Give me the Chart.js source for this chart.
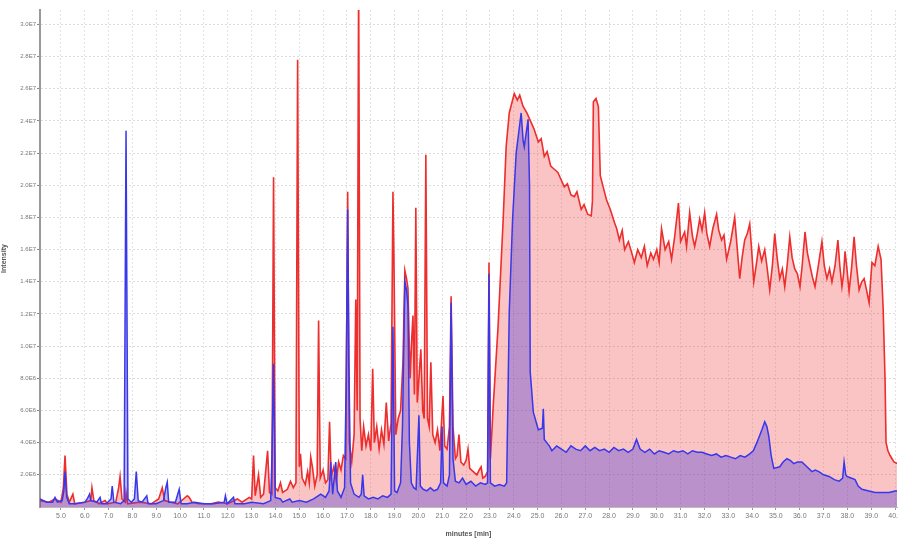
<!DOCTYPE html>
<html>
<head>
<meta charset="utf-8">
<script src="https://cdn.jsdelivr.net/npm/chart.js@4"></script>
<style>
  html, body { margin: 0; padding: 0; background: #fff; }
  #wrap { width: 898px; height: 538px; position: relative; }
</style>
</head>
<body>
<div id="wrap"><canvas id="tic"></canvas></div>
<script>
// retention time (min) / intensity (x1E6)
const redTrace = [
  [4.12,0.4],[4.5,0.3],[4.75,0.5],[5.0,0.3],[5.1,1.2],[5.17,3.2],[5.25,0.8],[5.35,0.3],[5.5,0.8],[5.58,0.2],
  [6.0,0.3],[6.25,0.4],[6.3,1.2],[6.38,0.4],[6.6,0.2],[6.85,0.4],[6.95,0.2],[7.3,0.3],[7.42,1.2],[7.48,1.9],
  [7.56,0.5],[7.7,0.3],[7.73,0.9],[7.8,0.2],[8.3,0.3],[8.8,0.2],[9.1,0.5],[9.25,1.2],[9.35,0.4],[9.6,0.3],
  [9.9,0.2],[10.3,0.7],[10.38,0.6],[10.5,0.3],[10.8,0.2],[11.3,0.2],[11.6,0.3],[12.0,0.2],[12.4,0.5],[12.6,0.3],
  [12.9,0.6],[13.0,0.5],[13.08,3.2],[13.15,0.7],[13.29,2.0],[13.38,0.6],[13.5,0.8],[13.67,3.5],[13.75,0.9],[13.85,0.8],
  [13.92,20.5],[13.99,1.2],[14.1,1.0],[14.21,1.5],[14.3,0.9],[14.5,1.1],[14.63,1.6],[14.75,1.2],[14.86,1.5],[14.93,27.8],
  [15.0,2.5],[15.05,3.3],[15.12,1.8],[15.25,1.4],[15.35,2.2],[15.42,1.5],[15.48,3.1],[15.55,2.5],[15.65,1.3],[15.75,2.0],
  [15.81,11.6],[15.88,1.8],[16.0,2.3],[16.1,1.5],[16.2,1.7],[16.27,5.3],[16.34,1.9],[16.45,2.5],[16.55,1.6],[16.65,2.8],
  [16.75,2.3],[16.85,3.2],[16.95,3.0],[17.03,19.6],[17.1,4.0],[17.2,2.8],[17.3,4.5],[17.37,12.9],[17.43,6.0],[17.49,33.0],
  [17.55,5.5],[17.62,3.5],[17.7,5.0],[17.8,3.8],[17.9,4.5],[18.0,3.5],[18.08,8.6],[18.15,4.0],[18.25,5.0],[18.35,3.6],
  [18.45,4.8],[18.55,3.9],[18.65,6.5],[18.75,4.1],[18.85,5.2],[18.93,19.6],[18.97,15.6],[19.05,4.5],[19.15,5.5],[19.25,6.0],
  [19.35,9.0],[19.43,14.7],[19.5,14.2],[19.56,13.6],[19.65,8.0],[19.72,10.5],[19.77,11.9],[19.83,7.0],[19.89,18.6],[19.95,6.5],
  [20.02,8.0],[20.1,9.8],[20.18,6.0],[20.24,5.5],[20.31,21.9],[20.38,5.5],[20.45,5.0],[20.52,9.0],[20.6,4.5],[20.7,4.0],
  [20.8,4.8],[20.9,3.5],[21.03,6.9],[21.1,3.8],[21.2,3.6],[21.3,5.0],[21.37,13.1],[21.45,5.0],[21.55,3.0],[21.62,3.2],
  [21.7,4.5],[21.78,2.8],[21.9,2.6],[22.0,2.9],[22.08,3.6],[22.15,2.4],[22.3,2.2],[22.45,2.0],[22.55,2.3],[22.63,2.5],
  [22.7,1.8],[22.8,1.9],[22.9,2.2],[22.96,15.2],[23.02,3.0],[23.13,6.1],[23.34,11.2],[23.55,17.7],[23.68,22.4],[23.81,24.5],
  [24.02,25.7],[24.15,25.3],[24.25,25.6],[24.39,24.9],[24.55,24.5],[24.73,23.9],[24.85,23.5],[25.03,22.7],[25.15,22.9],[25.28,21.8],
  [25.4,22.1],[25.55,21.2],[25.7,21.0],[25.85,20.8],[26.0,20.3],[26.12,19.9],[26.25,20.1],[26.4,19.4],[26.54,19.3],[26.65,19.6],
  [26.83,18.5],[26.95,18.8],[27.1,18.2],[27.25,18.1],[27.3,19.0],[27.34,25.2],[27.45,25.4],[27.55,24.9],[27.63,20.6],[27.75,19.9],
  [27.89,19.1],[28.05,18.5],[28.22,17.7],[28.32,17.3],[28.43,16.6],[28.55,17.2],[28.65,16.0],[28.81,16.5],[28.95,15.8],[29.06,15.2],
  [29.2,16.0],[29.35,15.5],[29.48,16.2],[29.6,15.0],[29.75,15.8],[29.86,15.4],[30.0,16.0],[30.1,15.2],[30.2,17.3],[30.35,16.0],
  [30.5,16.5],[30.62,15.4],[30.75,16.8],[30.91,18.9],[31.0,16.5],[31.17,17.1],[31.25,16.2],[31.38,18.3],[31.5,16.8],[31.59,16.2],
  [31.7,17.0],[31.8,17.9],[31.9,17.2],[32.01,18.3],[32.1,17.0],[32.22,16.2],[32.35,17.3],[32.51,18.2],[32.6,17.2],[32.72,16.6],
  [32.82,16.9],[32.93,15.4],[33.1,16.5],[33.27,18.0],[33.38,16.0],[33.48,14.2],[33.58,15.5],[33.69,16.6],[33.8,17.0],[33.9,17.6],
  [33.98,16.0],[34.07,14.0],[34.17,15.0],[34.28,16.2],[34.4,15.3],[34.53,16.0],[34.62,15.0],[34.74,13.5],[34.85,15.0],[34.95,17.0],
  [35.05,15.5],[35.16,14.2],[35.27,14.8],[35.37,13.7],[35.47,15.0],[35.58,16.8],[35.68,15.5],[35.79,14.8],[35.9,14.5],[36.01,13.7],
  [36.1,15.0],[36.22,17.1],[36.32,15.8],[36.43,15.0],[36.53,14.3],[36.64,13.7],[36.78,15.0],[36.93,16.5],[37.03,15.0],[37.14,14.2],
  [37.25,14.8],[37.35,14.0],[37.48,15.0],[37.6,16.6],[37.68,15.0],[37.77,13.7],[37.84,14.5],[37.9,15.9],[37.98,14.8],[38.07,13.4],
  [38.17,14.8],[38.28,16.8],[38.38,15.0],[38.49,13.5],[38.6,14.0],[38.7,14.2],[38.8,13.5],[38.91,12.7],[38.97,14.0],[39.03,15.2],
  [39.15,15.0],[39.29,16.2],[39.41,15.4],[39.5,12.3],[39.58,7.8],[39.62,4.0],[39.7,3.5],[39.79,3.2],[39.95,2.8],[40.09,2.7],[40.2,2.6]
];

const blueTrace = [
  [4.12,0.5],[4.4,0.3],[4.65,0.3],[4.75,0.6],[4.85,0.3],[5.05,0.4],[5.12,1.0],[5.17,2.2],[5.24,0.6],[5.35,0.2],
  [5.6,0.2],[6.0,0.3],[6.1,0.5],[6.2,0.8],[6.25,0.4],[6.5,0.3],[6.64,0.6],[6.7,0.2],[6.9,0.2],[7.1,0.5],
  [7.15,1.3],[7.22,0.3],[7.5,0.2],[7.65,0.4],[7.73,23.4],[7.81,0.5],[7.95,0.3],[8.08,0.5],[8.16,2.2],[8.24,0.4],
  [8.4,0.3],[8.6,0.7],[8.66,0.2],[9.0,0.2],[9.3,0.4],[9.4,1.2],[9.46,1.55],[9.52,0.3],[9.8,0.3],[9.96,1.1],
  [10.04,0.2],[10.3,0.2],[10.6,0.3],[11.0,0.2],[11.4,0.2],[11.85,0.3],[11.9,0.7],[11.97,0.2],[12.24,0.6],[12.3,0.2],
  [12.7,0.2],[13.0,0.3],[13.5,0.2],[13.8,0.4],[13.85,3.0],[13.92,8.9],[13.99,0.6],[14.21,0.5],[14.3,0.3],[14.6,0.5],
  [14.7,0.3],[15.0,0.4],[15.3,0.3],[15.6,0.5],[15.9,0.8],[16.1,0.6],[16.25,1.0],[16.32,2.8],[16.4,0.8],[16.53,2.8],
  [16.6,1.0],[16.75,0.6],[16.9,1.2],[16.97,8.0],[17.03,18.5],[17.08,9.0],[17.15,1.5],[17.3,0.8],[17.5,0.6],[17.6,0.8],
  [17.66,2.0],[17.72,0.7],[17.9,0.5],[18.1,0.6],[18.3,0.5],[18.5,0.7],[18.7,0.6],[18.85,0.8],[18.93,11.2],[19.0,1.0],
  [19.1,0.9],[19.25,1.5],[19.33,5.0],[19.43,14.0],[19.5,13.5],[19.56,12.5],[19.62,4.0],[19.7,1.5],[19.8,1.2],[19.9,1.1],
  [20.02,5.7],[20.08,1.3],[20.2,1.1],[20.35,1.0],[20.5,1.2],[20.65,1.0],[20.8,1.1],[20.93,1.5],[20.99,5.0],[21.05,1.5],
  [21.2,1.3],[21.3,2.0],[21.37,12.7],[21.45,3.0],[21.55,1.6],[21.7,1.5],[21.85,1.8],[22.0,1.4],[22.2,1.6],[22.4,1.3],
  [22.6,1.5],[22.8,1.4],[22.9,1.5],[22.96,14.5],[23.02,1.5],[23.2,1.3],[23.4,1.4],[23.6,1.3],[23.7,1.5],[23.81,12.1],
  [23.95,17.9],[24.1,22.0],[24.31,24.5],[24.39,22.8],[24.44,22.4],[24.6,24.1],[24.66,20.0],[24.69,8.4],[24.82,5.9],[25.03,4.8],
  [25.2,4.9],[25.24,6.1],[25.28,4.2],[25.49,3.8],[25.6,3.5],[25.8,3.8],[26.0,3.6],[26.2,3.4],[26.4,3.8],[26.6,3.6],
  [26.8,3.5],[27.0,3.8],[27.2,3.5],[27.4,3.7],[27.6,3.5],[27.8,3.6],[28.0,3.4],[28.2,3.7],[28.4,3.5],[28.6,3.6],
  [28.8,3.4],[29.0,3.6],[29.15,4.2],[29.3,3.6],[29.5,3.4],[29.7,3.6],[29.9,3.3],[30.1,3.5],[30.3,3.4],[30.5,3.3],
  [30.7,3.5],[30.9,3.4],[31.1,3.5],[31.3,3.3],[31.5,3.5],[31.7,3.4],[31.9,3.4],[32.1,3.3],[32.3,3.2],[32.5,3.3],
  [32.7,3.1],[32.9,3.2],[33.1,3.1],[33.3,3.0],[33.5,3.2],[33.7,3.1],[33.9,3.3],[34.05,3.5],[34.2,4.0],[34.41,4.8],
  [34.53,5.3],[34.62,5.0],[34.7,4.4],[34.8,3.2],[34.91,2.4],[35.16,2.5],[35.3,2.8],[35.46,3.0],[35.6,2.9],[35.75,2.7],
  [35.9,2.8],[36.09,2.8],[36.3,2.5],[36.51,2.2],[36.65,2.3],[36.8,2.2],[37.0,2.0],[37.23,1.9],[37.45,1.7],[37.65,1.6],
  [37.8,1.8],[37.86,2.8],[37.93,2.0],[37.98,1.9],[38.15,1.8],[38.32,1.7],[38.45,1.3],[38.61,1.1],[38.9,1.0],[39.16,0.9],
  [39.5,0.9],[39.75,0.9],[40.0,1.0],[40.2,1.0]
];

const xTicks = [5,6,7,8,9,10,11,12,13,14,15,16,17,18,19,20,21,22,23,24,25,26,27,28,29,30,31,32,33,34,35,36,37,38,39,40];
const yTicks = [2,4,6,8,10,12,14,16,18,20,22,24,26,28,30];

function fmtIntensity(v) {
  return v < 10 ? v.toFixed(1) + 'E6' : (v / 10).toFixed(1) + 'E7';
}

const toPoints = arr => arr.map(p => ({ x: p[0], y: p[1] }));

new Chart(document.getElementById('tic'), {
  type: 'line',
  data: {
    datasets: [
      {
        label: 'blue',
        data: toPoints(blueTrace),
        borderColor: 'rgb(55,55,235)',
        backgroundColor: 'rgba(85,60,215,0.38)',
        borderWidth: 1.5,
        fill: 'origin',
        pointRadius: 0,
        tension: 0,
        order: 0
      },
      {
        label: 'red',
        data: toPoints(redTrace),
        borderColor: 'rgb(238,45,45)',
        backgroundColor: 'rgba(238,60,60,0.3)',
        borderWidth: 1.6,
        fill: 'origin',
        pointRadius: 0,
        tension: 0,
        order: 1
      }
    ]
  },
  options: {
    responsive: true,
    maintainAspectRatio: false,
    animation: false,
    layout: { padding: { top: 10, right: 1, left: 0, bottom: 0 } },
    plugins: { legend: { display: false }, tooltip: { enabled: false } },
    scales: {
      x: {
        type: 'linear',
        min: 4.12,
        max: 40.08,
        afterBuildTicks: s => { s.ticks = xTicks.map(v => ({ value: v })); },
        // the last label may run off the right edge, so no space is kept for it
        afterFit: s => { s.height = 31; s.paddingRight = 0; },
        grid: { color: '#e2e2e2', lineWidth: 1, tickLength: 3, tickColor: '#999' },
        border: { display: true, color: '#bbb', dash: [2, 2] },
        ticks: {
          color: '#777',
          font: { family: 'Liberation Sans', size: 7 },
          padding: 2,
          maxRotation: 0,
          autoSkip: false,
          callback: v => v.toFixed(1)
        },
        title: {
          display: true,
          text: 'minutes [min]',
          color: '#555',
          font: { family: 'Liberation Sans', size: 7, weight: 'bold' },
          padding: { top: 1, bottom: 0 }
        }
      },
      y: {
        min: 0,
        max: 30.9,
        afterBuildTicks: s => { s.ticks = yTicks.map(v => ({ value: v })); },
        afterFit: s => { s.width = 40; },
        grid: { color: '#dcdcdc', lineWidth: 1, tickLength: 3, tickColor: '#888' },
        border: { display: true, color: '#999', width: 2, dash: [2, 2] },
        ticks: {
          color: '#777',
          font: { family: 'Liberation Sans', size: 6 },
          padding: 1,
          autoSkip: false,
          callback: v => fmtIntensity(v)
        },
        title: {
          display: true,
          text: 'Intensity',
          color: '#555',
          font: { family: 'Liberation Sans', size: 7, weight: 'bold' },
          padding: { top: 0, bottom: 2 }
        }
      }
    }
  }
});
</script>
</body>
</html>
